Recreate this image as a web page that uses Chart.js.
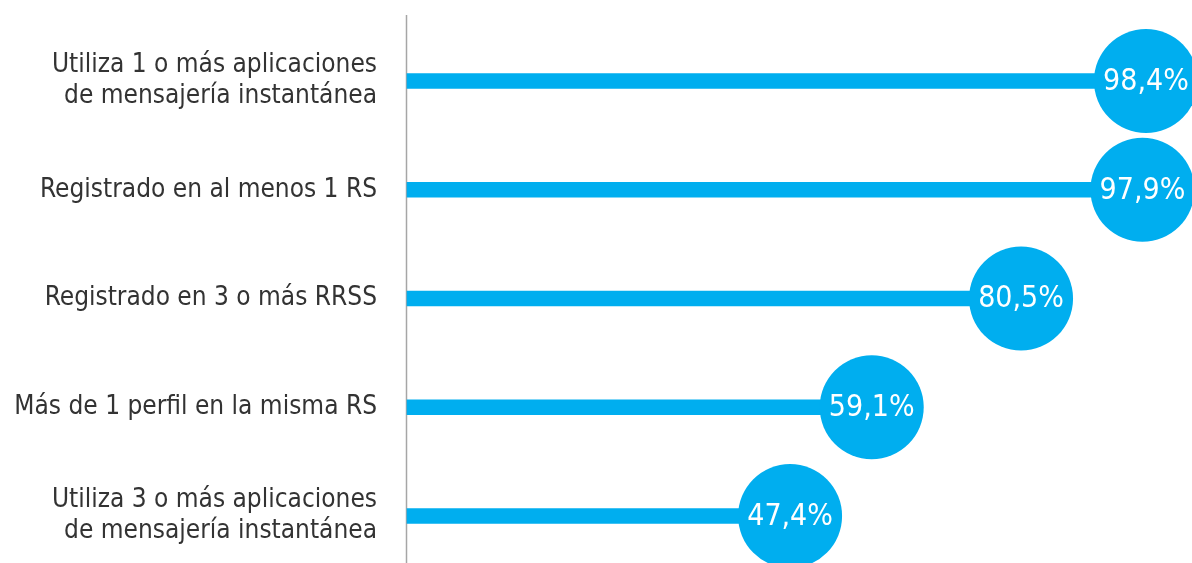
<!DOCTYPE html>
<html>
<head>
<meta charset="utf-8">
<script src="https://cdn.jsdelivr.net/npm/chart.js@4.4.1/dist/chart.umd.min.js"></script>
<style>
  html, body { margin: 0; padding: 0; background: #ffffff; }
  #wrap { width: 1192px; height: 563px; position: relative; }
</style>
</head>
<body>
<div id="wrap"><canvas id="c" width="1192" height="563"></canvas></div>
<script>
// ---- data ----
const categories = [
  ["Utiliza 1 o más aplicaciones", "de mensajería instantánea"],
  "Registrado en al menos 1 RS",
  "Registrado en 3 o más RRSS",
  "Más de 1 perfil en la misma RS",
  ["Utiliza 3 o más aplicaciones", "de mensajería instantánea"]
];
const values = [98.4, 97.9, 80.5, 59.1, 47.4];
const valueLabels = ["98,4%", "97,9%", "80,5%", "59,1%", "47,4%"];

// ---- style ----
const BLUE = '#00AEEF';
const TEXT = '#333333';
const FONT = "'DejaVu Sans Condensed', 'Liberation Sans Narrow', sans-serif";
const AXIS_MIN = -7.5;
const AXIS_MAX = 105;

const axisLine = {
  id: 'axisLine',
  beforeDatasetsDraw(chart) {
    const ctx = chart.ctx, a = chart.chartArea;
    ctx.save();
    ctx.strokeStyle = '#a6a6a6';
    ctx.lineWidth = 1.5;
    ctx.beginPath();
    ctx.moveTo(a.left - 0.5, 15);
    ctx.lineTo(a.left - 0.5, chart.height);
    ctx.stroke();
    ctx.restore();
  }
};

const circleText = {
  id: 'circleText',
  afterDatasetsDraw(chart) {
    const meta = chart.getDatasetMeta(0);
    const ctx = chart.ctx;
    ctx.save();
    ctx.fillStyle = '#ffffff';
    ctx.font = "30px " + FONT;
    ctx.textAlign = 'center';
    ctx.textBaseline = 'middle';
    meta.data.forEach((pt, i) => {
      ctx.fillText(valueLabels[i], pt.x, pt.y + 1);
    });
    ctx.restore();
  }
};

new Chart(document.getElementById('c'), {
  type: 'bar',
  data: {
    labels: categories,
    datasets: [
      {
        type: 'line',
        data: values,
        showLine: false,
        pointRadius: 52,
        pointHoverRadius: 52,
        pointBackgroundColor: BLUE,
        pointBorderWidth: 0,
        pointBorderColor: BLUE,
        clip: false,
        order: 0
      },
      {
        type: 'bar',
        data: values,
        base: AXIS_MIN,
        backgroundColor: BLUE,
        barThickness: 15,
        clip: false,
        order: 1
      }
    ]
  },
  options: {
    indexAxis: 'y',
    responsive: false,
    animation: false,
    events: [],
    layout: { autoPadding: false, padding: { top: 81, bottom: 47, left: 0, right: 0 } },
    plugins: { legend: { display: false }, tooltip: { enabled: false } },
    scales: {
      x: {
        type: 'linear',
        min: AXIS_MIN,
        max: AXIS_MAX,
        display: false
      },
      y: {
        type: 'category',
        offset: false,
        grid: { display: false, drawTicks: false, tickLength: 0 },
        border: { display: false },
        ticks: {
          color: TEXT,
          padding: 30,
          font: { family: FONT, size: 26, lineHeight: 1.2 },
          crossAlign: 'near'
        },
        afterFit(scale) {
          scale.width = 407;
          scale.paddingTop = 0;
          scale.paddingBottom = 0;
        }
      }
    }
  },
  plugins: [axisLine, circleText]
});
</script>
</body>
</html>
